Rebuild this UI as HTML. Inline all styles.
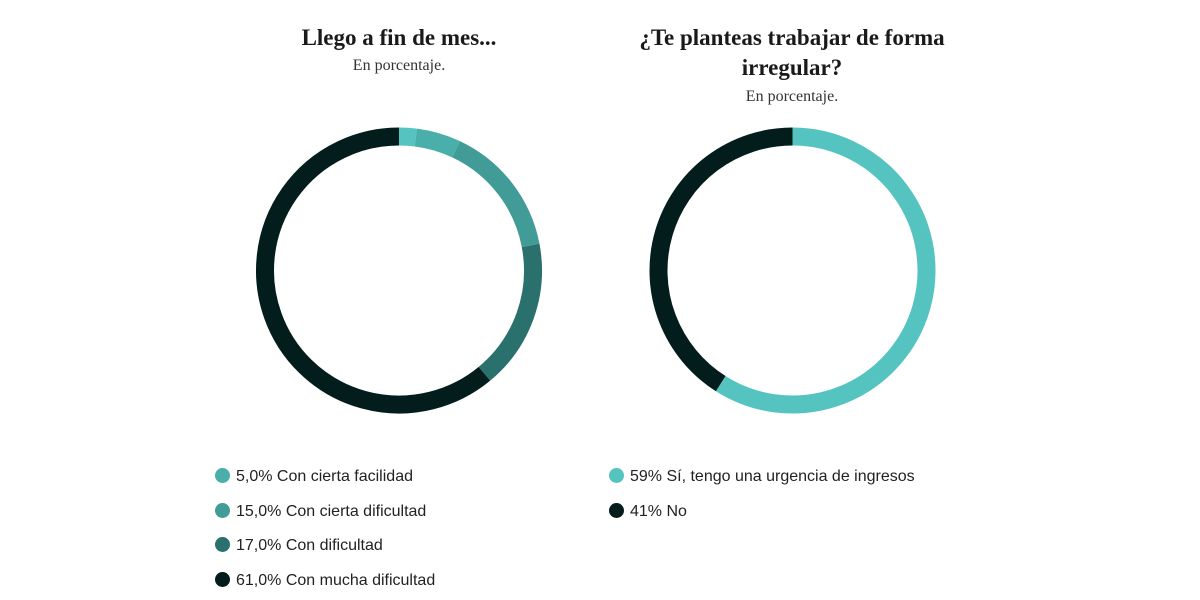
<!DOCTYPE html>
<html><head><meta charset="utf-8"><style>
body{margin:0;background:#fff;width:1200px;height:600px;overflow:hidden;position:relative;font-family:"Liberation Sans",sans-serif}
.t{position:absolute;text-align:center;font-family:"Liberation Serif",serif;color:#1a1a1a}
.h{font-weight:bold;font-size:23px;line-height:30px}
.s{font-size:16px;line-height:20px;color:#333}
.lg{position:absolute;font-size:16px;color:#222;height:20px;line-height:20px}
.dot{display:inline-block;width:15px;height:15px;border-radius:50%;vertical-align:-2px;margin-right:6px}
</style></head><body>
<div class="t h" style="left:199px;width:400px;top:23px">Llego a fin de mes...</div>
<div class="t s" style="left:199px;width:400px;top:56px">En porcentaje.</div>
<div class="t h" style="left:592px;width:400px;top:23px">¿Te planteas trabajar de forma irregular?</div>
<div class="t s" style="left:592px;width:400px;top:87px">En porcentaje.</div>
<svg id="svg" width="1200" height="600" style="position:absolute;left:0;top:0"></svg>
<div id="legends"></div>
<script>
const leftValues=[2,5,15,17,61];
const leftColors=["#55c4c1","#4aafab","#419c98","#2a706c","#031c1c"];
const leftLabels=["","5,0% Con cierta facilidad","15,0% Con cierta dificultad","17,0% Con dificultad","61,0% Con mucha dificultad"];
const rightValues=[59,41];
const rightColors=["#55c4c1","#031c1c"];
const rightLabels=["59% Sí, tengo una urgencia de ingresos","41% No"];
const NS="http://www.w3.org/2000/svg";
const svg=document.getElementById('svg');
function arc(cx,cy,r,a0,a1){
  const p=a=>[cx+r*Math.sin(a),cy-r*Math.cos(a)];
  const [x0,y0]=p(a0),[x1,y1]=p(a1);
  return `M${x0},${y0}A${r},${r} 0 ${a1-a0>Math.PI?1:0} 1 ${x1},${y1}`;
}
function donut(cx,cy,vals,cols,name){
  const tot=vals.reduce((a,b)=>a+b,0);let a=0;
  vals.forEach((v,i)=>{
    const a1=a+v/tot*2*Math.PI;
    const pth=document.createElementNS(NS,'path');
    pth.setAttribute('d',arc(cx,cy,134,a,a1));
    pth.setAttribute('fill','none');
    pth.setAttribute('stroke',cols[i]);
    pth.setAttribute('stroke-width','18');
    
    
    svg.appendChild(pth);a=a1;
  });
}
donut(399,270.5,leftValues,leftColors,'left');
donut(792.5,270.5,rightValues,rightColors,'right');
const lg=document.getElementById('legends');
function legend(x,labels,cols,name){
  let k=0;
  labels.forEach((l,i)=>{
    if(!l)return;
    const d=document.createElement('div');
    d.className='lg';d.style.left=x+'px';d.style.top=(467+k*34.7)+'px';
    d.innerHTML=`<span class="dot" style="background:${cols[i]}"></span>${l}`;
    
    
    lg.appendChild(d);k++;
  });
}
legend(215,leftLabels,leftColors,'left');
legend(609,rightLabels,rightColors,'right');
</script>
</body></html>
